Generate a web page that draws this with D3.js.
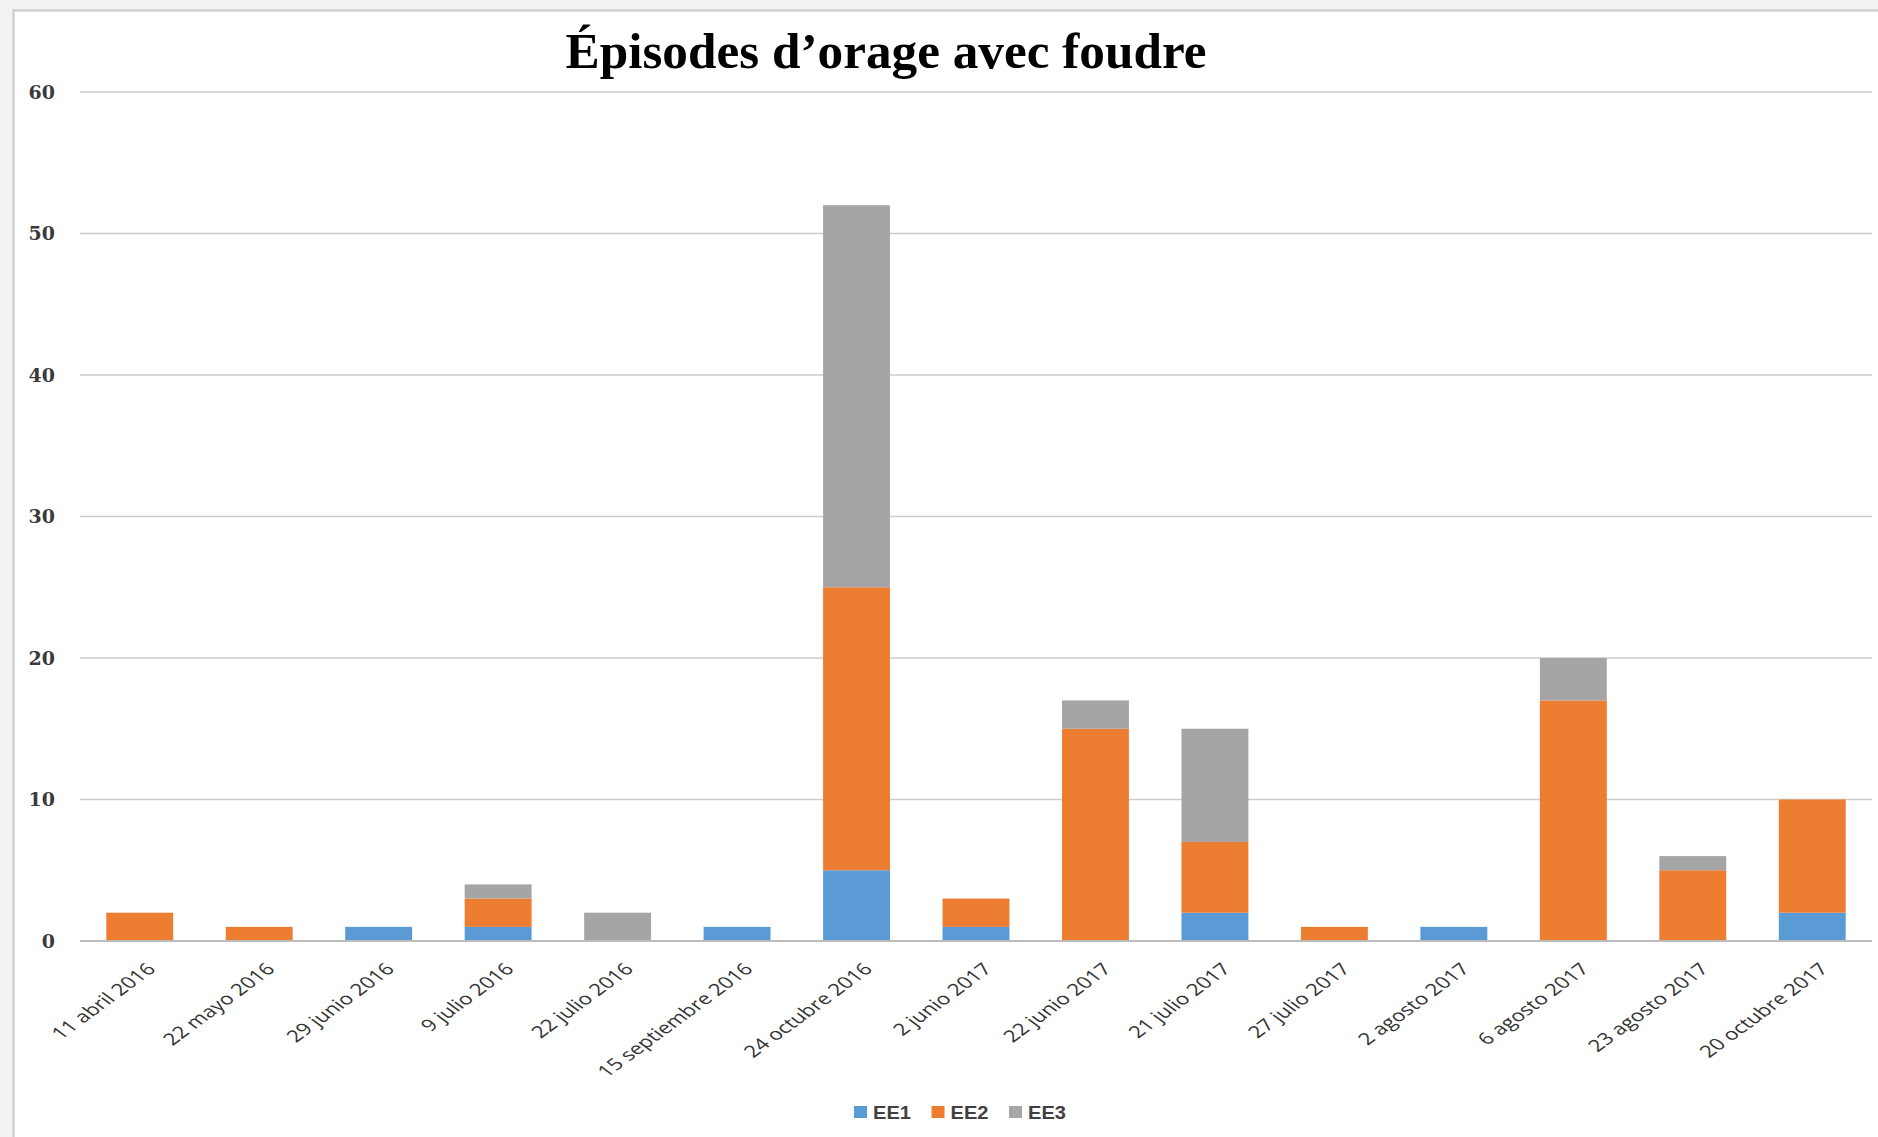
<!DOCTYPE html>
<html>
<head>
<meta charset="utf-8">
<script src="https://cdn.jsdelivr.net/npm/d3@7"></script>
<style>
  html, body { margin: 0; padding: 0; background: #f3f3f3; }
  #chart { width: 1878px; height: 1137px; }
</style>
</head>
<body>
<div id="chart"></div>
<script>
// values
const categories = [
  "11 abril 2016", "22 mayo 2016", "29 junio 2016", "9 julio 2016",
  "22 julio 2016", "15 septiembre 2016", "24 octubre 2016", "2 junio 2017",
  "22 junio 2017", "21 julio 2017", "27 julio 2017", "2 agosto 2017",
  "6 agosto 2017", "23 agosto 2017", "20 octubre 2017"
];
const seriesNames = ["EE1", "EE2", "EE3"];
const ee1 = [0, 0, 1, 1, 0, 1, 5, 1, 0, 2, 0, 1, 0, 0, 2];
const ee2 = [2, 1, 0, 2, 0, 0, 20, 2, 15, 5, 1, 0, 17, 5, 8];
const ee3 = [0, 0, 0, 1, 2, 0, 27, 0, 2, 8, 0, 0, 3, 1, 0];
const yTicks = [0, 10, 20, 30, 40, 50, 60];
const titleText = "Épisodes d’orage avec foudre";

function renderStackedChart(containerId) {
  const container = d3.select(`#${containerId}`);
  container.selectAll("*").remove();

  const width = 1878;
  const height = 1137;
  const margin = { top: 92, right: 6, bottom: 196, left: 80 };
  // the source picture is stretched sideways, labels follow that
  const stretch = 1.36;

  const svg = container.append("svg")
    .attr("width", width)
    .attr("height", height);

  // page frame
  svg.append("rect")
    .attr("x", 13.5)
    .attr("y", 10.5)
    .attr("width", width)
    .attr("height", height)
    .attr("fill", "#fff")
    .attr("stroke", "#cfcfcf")
    .attr("stroke-width", 2.5);

  const colors = d3.scaleOrdinal()
    .domain(seriesNames)
    .range(["#5b9bd5", "#ed7d31", "#a5a5a5"]);

  const rows = categories.map((c, i) => ({ cat: c, EE1: ee1[i], EE2: ee2[i], EE3: ee3[i] }));
  const stacked = d3.stack().keys(seriesNames)(rows);

  const x = d3.scaleBand()
    .domain(categories)
    .range([margin.left, width - margin.right])
    .paddingInner(0.44)
    .paddingOuter(0.22);

  const y = d3.scaleLinear()
    .domain([0, 60])
    .range([height - margin.bottom, margin.top]);

  // gridlines
  svg.append("g")
    .selectAll("line")
    .data(yTicks.filter(d => d > 0))
    .join("line")
    .attr("x1", margin.left)
    .attr("x2", width - margin.right)
    .attr("y1", d => y(d))
    .attr("y2", d => y(d))
    .attr("stroke", "#cccccc")
    .attr("stroke-width", 1.6);

  // y labels
  const yAxis = svg.append("g")
    .attr("transform", `translate(${margin.left - 25},0)`)
    .call(d3.axisLeft(y).tickValues(yTicks).tickSize(0).tickPadding(0));
  yAxis.select(".domain").remove();
  yAxis.selectAll("text")
    .attr("font-family", "DejaVu Serif")
    .attr("font-weight", "bold")
    .attr("font-size", 19)
    .attr("fill", "#3a3a3a");

  // bars
  svg.append("g")
    .selectAll("g")
    .data(stacked)
    .join("g")
    .attr("fill", d => colors(d.key))
    .selectAll("rect")
    .data(d => d)
    .join("rect")
    .attr("x", d => x(d.data.cat))
    .attr("y", d => y(d[1]))
    .attr("width", x.bandwidth())
    .attr("height", d => y(d[0]) - y(d[1]));

  // zero line
  svg.append("line")
    .attr("x1", margin.left)
    .attr("x2", width - margin.right)
    .attr("y1", y(0))
    .attr("y2", y(0))
    .attr("stroke", "#bcbcbc")
    .attr("stroke-width", 2);

  // x labels
  svg.append("g")
    .selectAll("text")
    .data(categories)
    .join("text")
    .attr("transform", d => `translate(${x(d) + x.bandwidth() / 2 + 17},${y(0) + 29}) scale(${stretch},1) rotate(-45)`)
    .attr("text-anchor", "end")
    .attr("font-family", "Open Sans")
    .attr("font-size", 16.5)
    .attr("fill", "#333")
    .text(d => d);

  // title
  svg.append("text")
    .attr("x", 886)
    .attr("y", 68)
    .attr("text-anchor", "middle")
    .attr("font-family", "Liberation Serif")
    .attr("font-weight", "bold")
    .attr("font-size", 50)
    .attr("textLength", 641)
    .attr("lengthAdjust", "spacingAndGlyphs")
    .attr("fill", "#000")
    .text(titleText);

  // legend
  const legend = svg.append("g")
    .attr("transform", "translate(854,1106)");
  const item = legend.selectAll("g")
    .data(seriesNames)
    .join("g")
    .attr("transform", (d, i) => `translate(${i * 77.5},0)`);
  item.append("rect")
    .attr("width", 13)
    .attr("height", 12)
    .attr("fill", d => colors(d));
  item.append("text")
    .attr("x", 19)
    .attr("y", 12.5)
    .attr("font-family", "Liberation Sans")
    .attr("font-weight", "bold")
    .attr("font-size", 18)
    .attr("textLength", 38)
    .attr("lengthAdjust", "spacingAndGlyphs")
    .attr("fill", "#404040")
    .text(d => d);
}

document.addEventListener("DOMContentLoaded", () => {
  renderStackedChart("chart");
});
</script>
</body>
</html>
